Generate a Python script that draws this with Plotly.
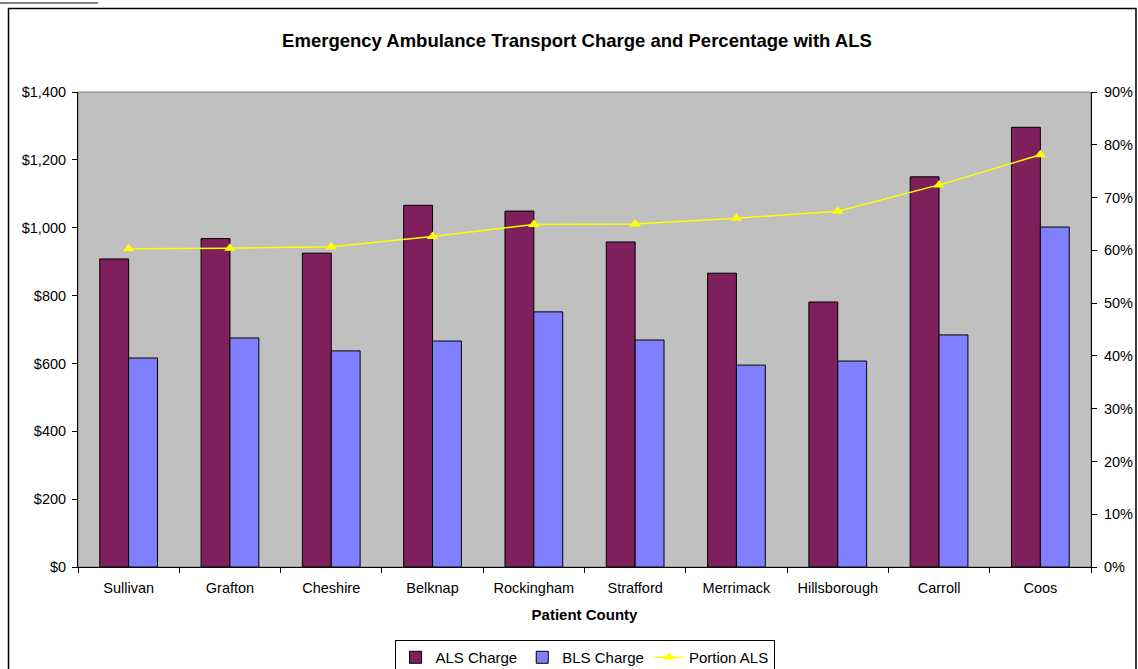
import plotly.graph_objects as go

counties = ["Sullivan", "Grafton", "Cheshire", "Belknap", "Rockingham",
            "Strafford", "Merrimack", "Hillsborough", "Carroll", "Coos"]
als_charge = [908, 968, 925, 1066, 1049, 958, 866, 781, 1150, 1296]
bls_charge = [616, 675, 637, 666, 752, 669, 595, 607, 684, 1002]
portion_als = [0.603, 0.604, 0.607, 0.626, 0.649, 0.650, 0.661, 0.674, 0.724, 0.781]

FONT = "Liberation Sans, Arial, sans-serif"

fig = go.Figure()
fig.add_trace(go.Bar(
    x=counties, y=als_charge, name="ALS Charge",
    marker=dict(color="#7F1F5B", line=dict(color="#000000", width=1)),
))
fig.add_trace(go.Bar(
    x=counties, y=bls_charge, name="BLS Charge",
    marker=dict(color="#8080FF", line=dict(color="#000000", width=1)),
))
fig.add_trace(go.Scatter(
    x=counties, y=portion_als, name="Portion ALS", yaxis="y2",
    mode="lines+markers",
    line=dict(color="#FFFF00", width=1.5),
    marker=dict(symbol="triangle-up", size=10, color="#FFFF00"),
))

shapes = [
    # plot area frame (gray, Excel style)
    dict(type="rect", xref="paper", yref="paper", x0=0, x1=1, y0=0, y1=1,
         line=dict(color="#808080", width=1), layer="below"),
    # outer chart border
    dict(type="rect", xref="paper", yref="paper",
         x0=-0.0686, x1=1.0444, y0=-0.25, y1=1.1758,
         line=dict(color="#000000", width=1.5)),
    # stray underline at the top left
    dict(type="line", xref="paper", yref="paper",
         x0=-0.077, x1=0.0197, y0=1.1874, y1=1.1874,
         line=dict(color="#000000", width=1)),
]

fig.update_layout(
    width=1138, height=669,
    margin=dict(l=78, r=47, t=92, b=102),
    paper_bgcolor="#FFFFFF",
    plot_bgcolor="#C0C0C0",
    font=dict(family=FONT, size=14.5, color="#000000"),
    title=dict(
        text="<b>Emergency Ambulance Transport Charge and Percentage with ALS</b>",
        x=0.4926, xanchor="center", xref="paper", y=0.9387, yanchor="middle",
        font=dict(family=FONT, size=18.5, color="#000000"),
    ),
    barmode="group",
    bargap=0.43,
    bargroupgap=0,
    xaxis=dict(
        title=dict(text="<b>Patient County</b>", font=dict(size=15), standoff=14),
        range=[-0.5, len(counties) - 0.5],
        showline=True, linecolor="#000000", linewidth=1,
        ticks="outside", tickson="boundaries", ticklen=5, tickcolor="#000000",
        ticklabelstandoff=8,
        showgrid=False, automargin=False,
        tickfont=dict(size=14.5),
    ),
    yaxis=dict(
        range=[0, 1400], dtick=200, tickprefix="$", tickformat=",",
        showline=True, linecolor="#000000", linewidth=1,
        ticks="outside", ticklen=5, tickcolor="#000000",
        ticklabelstandoff=3,
        showgrid=False, zeroline=False, automargin=False,
        tickfont=dict(size=14.5),
    ),
    yaxis2=dict(
        range=[0, 0.9], dtick=0.1, tickformat=".0%",
        overlaying="y", side="right",
        showline=True, linecolor="#000000", linewidth=1,
        ticks="outside", ticklen=5, tickcolor="#000000",
        ticklabelstandoff=4,
        showgrid=False, zeroline=False, automargin=False,
        tickfont=dict(size=14.5),
    ),
    legend=dict(
        orientation="h", x=0.5, xanchor="center", xref="paper",
        y=0.0433, yanchor="top", yref="container",
        bordercolor="#000000", borderwidth=1, bgcolor="#FFFFFF",
        font=dict(size=15), tracegroupgap=0,
    ),
    shapes=shapes,
)

# drop the default 8px body margin so the figure fills the window exactly
fig.write_html("out.html", config={"displayModeBar": False},
               post_script="document.body.style.margin = '0';")
